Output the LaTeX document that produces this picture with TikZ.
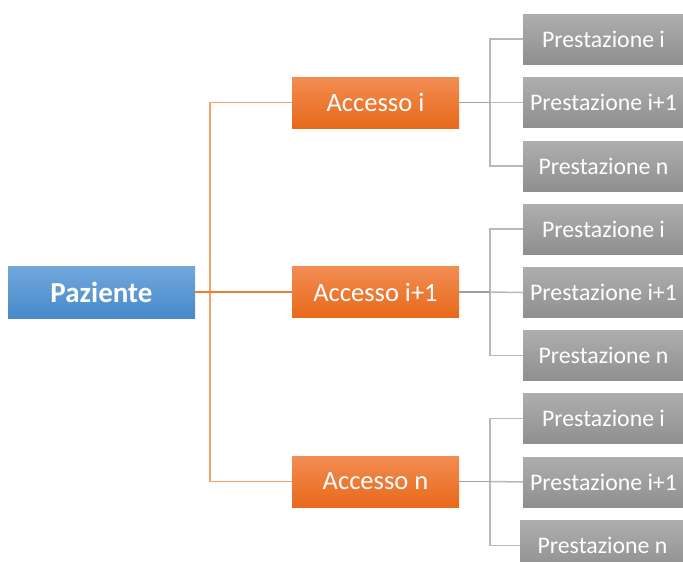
\documentclass[tikz,border=0pt]{standalone}
\usepackage{fontspec}
\setmainfont{Carlito}
\definecolor{bluetop}{HTML}{72A8DD}
\definecolor{bluebot}{HTML}{4689CA}
\definecolor{ortop}{HTML}{F28D52}
\definecolor{orbot}{HTML}{E8691B}
\definecolor{graytop}{HTML}{AEAEAE}
\definecolor{graybot}{HTML}{8F8F8F}
\definecolor{orline}{HTML}{F4A36C}
\definecolor{orlinedark}{HTML}{EE7D33}
\definecolor{grline}{HTML}{A0A0A0}
\definecolor{grlinelight}{HTML}{B8B8B8}
\tikzset{
  x=1pt, y=-1pt,
  rootbox/.style={draw=none, top color=bluetop, bottom color=bluebot, minimum width=187pt, minimum height=52pt, inner sep=0pt, text=white, font=\fontsize{29}{32}\selectfont\bfseries},
  accbox/.style={draw=none, top color=ortop, bottom color=orbot, minimum width=167pt, minimum height=51pt, inner sep=0pt, text=white, font=\fontsize{26.5}{30}\selectfont},
  prestbox/.style={draw=none, top color=graytop, bottom color=graybot, minimum width=161pt, minimum height=50pt, inner sep=0pt, text=white, font=\fontsize{23.8}{28}\selectfont},
  orconn/.style={draw=orline, line width=1.4pt},
  orconnd/.style={draw=orlinedark, line width=1.5pt},
  grconn/.style={draw=grline, line width=1.6pt},
  grconnl/.style={draw=grlinelight, line width=1.5pt},
}
\begin{document}
\begin{tikzpicture}
\useasboundingbox (0,0) rectangle (683,562);
\clip (0,0) rectangle (683,562);
\node[rootbox] (paz) at (101.5,292) {Paziente};
\node[accbox] (a1) at (375.5,102.5) {Accesso i};
\node[accbox] (a2) at (375.5,292) {Accesso i+1};
\node[accbox] (a3) at (375.5,481.5) {Accesso n};
\node[prestbox] (p11) at (603.5,39) {Prestazione i};
\node[prestbox] (p12) at (603.5,102.5) {Prestazione i+1};
\node[prestbox] (p13) at (603.5,166) {Prestazione n};
\node[prestbox] (p21) at (603.5,229) {Prestazione i};
\node[prestbox] (p22) at (603.5,292.5) {Prestazione i+1};
\node[prestbox] (p23) at (603.5,355.5) {Prestazione n};
\node[prestbox] (p31) at (603.5,418.5) {Prestazione i};
\node[prestbox] (p32) at (603.5,482) {Prestazione i+1};
\node[prestbox, minimum width=165pt, minimum height=51pt] (p33) at (602.5,545.5) {Prestazione n};
% orange connectors
\coordinate (oj) at (210,292);
\draw[orconn] (a1.west) -| (oj);
\draw[orconn] (a3.west) -| (oj);
\draw[orconnd] (paz.east) -- (a2.west);
% gray connectors
\foreach \a/\p in {a1/p1, a2/p2, a3/p3}{
  \coordinate (gj-\a) at ([xshift=31pt]\a.east);
  \draw[grconnl] (\p1.west) -| (gj-\a) |- (\p3.west);
  \draw[grconnl] (gj-\a) -- (\p2.west);
  \draw[grconn] (\a.east) -- (gj-\a);
}
\end{tikzpicture}
\end{document}
